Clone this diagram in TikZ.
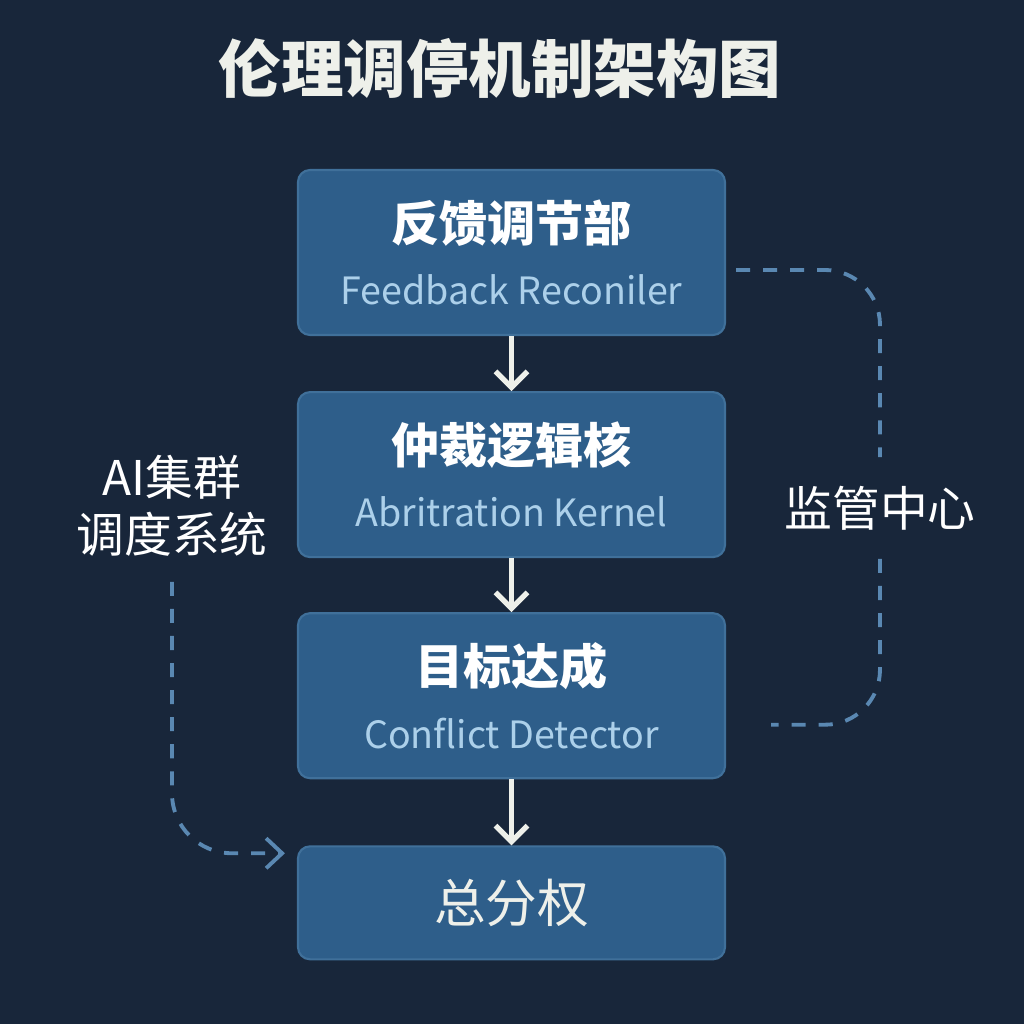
\documentclass[tikz,border=0pt]{standalone}
\usepackage{fontspec}
\setmainfont{Noto Sans CJK SC}
\usepackage{xcolor}
\definecolor{bgnavy}{RGB}{24, 38, 58}
\definecolor{boxblue}{RGB}{46, 94, 138}
\definecolor{boxedge}{RGB}{64, 112, 154}
\definecolor{subtitleblue}{RGB}{172, 208, 234}
\definecolor{dashblue}{RGB}{90, 136, 178}
\definecolor{offwhite}{RGB}{238, 240, 234}
\usepackage{tikz}
\usetikzlibrary{arrows.meta, positioning, calc}

\begin{document}
\begin{tikzpicture}[
    stage/.style={draw=boxedge, fill=boxblue, line width=0.6pt, rounded corners=0.12cm,
        minimum width=4.27cm, minimum height=1.65cm, align=center, inner sep=0pt},
    flow/.style={-{Straight Barb[length=1.6mm, width=3.2mm]}, line width=1.5pt, color=offwhite},
    dashlink/.style={line width=1.1pt, color=dashblue, dash pattern=on 4pt off 3.7pt},
    sidelabel/.style={font=\fontsize{13.6}{16.2}\selectfont, color=white, align=center, inner sep=0pt}
]
    % Background
    \fill[bgnavy] (0,0) rectangle (10.24,10.24);
    \useasboundingbox (0,0) rectangle (10.24,10.24);

    % Title
    \node[font=\fontsize{17.8}{20}\selectfont\bfseries, color=offwhite] (title) at (5.0, 9.56) {伦理调停机制架构图};

    % Main pipeline
    \node[stage] (fb) at (5.115, 7.715)
        {{\fontsize{13.7}{16}\selectfont\bfseries\color{white} 反馈调节部}\\[6pt]{\fontsize{10.7}{13}\selectfont\color{subtitleblue} Feedback Reconiler}};
    \node[stage, below=0.55cm of fb] (ak)
        {{\fontsize{13.7}{16}\selectfont\bfseries\color{white} 仲裁逻辑核}\\[6pt]{\fontsize{10.7}{13}\selectfont\color{subtitleblue} Abritration Kernel}};
    \node[stage, below=0.54cm of ak] (cd)
        {{\fontsize{13.7}{16}\selectfont\bfseries\color{white} 目标达成}\\[6pt]{\fontsize{10.7}{13}\selectfont\color{subtitleblue} Conflict Detector}};
    \node[stage, below=0.66cm of cd, minimum height=1.13cm, font=\fontsize{14.7}{17}\selectfont, text=offwhite] (ov) {总分权};

    \draw[flow] (fb) -- (ak);
    \draw[flow] (ak) -- (cd);
    \draw[flow] (cd) -- (ov);

    % Supervision loop (right)
    \node[sidelabel, inner ysep=8pt] (monitor) at (8.80, 5.16) {监管中心};
    \coordinate (fbout) at ($(fb.east)+(0.10,-0.175)$);
    \coordinate (cdin) at ($(cd.east)+(0.45,-0.29)$);
    \draw[dashlink, rounded corners=0.55cm] (fbout) -| (monitor.north);
    \draw[dashlink, rounded corners=0.55cm] (monitor.south) |- (cdin);

    % Scheduler feed (left)
    \node[sidelabel, inner ysep=7pt] (cluster) at (1.72, 5.18) {AI集群\\调度系统};
    \coordinate (ovin) at ($(ov.north west)+(-0.12,-0.08)$);
    \draw[dashlink, -{Straight Barb[length=1.6mm, width=3mm]}, rounded corners=0.6cm] (cluster.south) |- (ovin);

\end{tikzpicture}
\end{document}
